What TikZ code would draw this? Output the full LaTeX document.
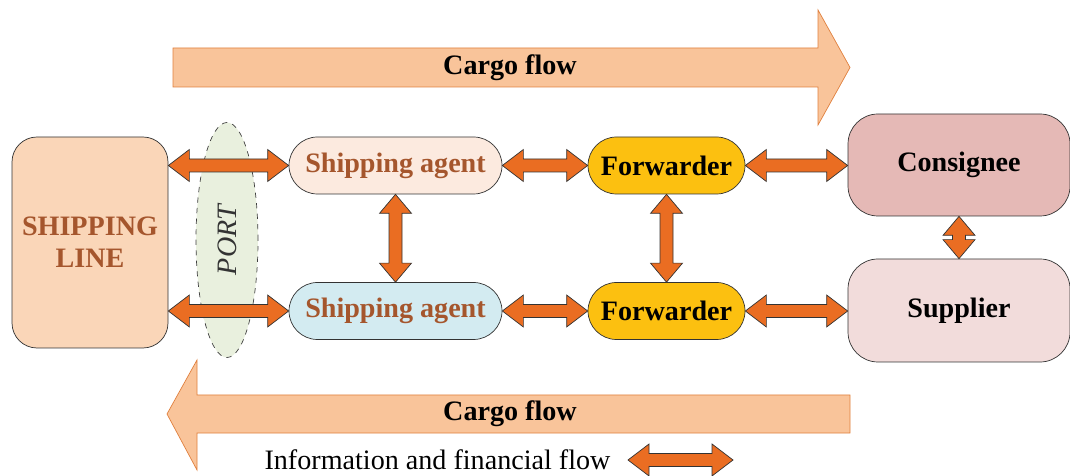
\documentclass[tikz,border=0pt]{standalone}
\usepackage{fontspec}
\setmainfont{Liberation Serif}
\usetikzlibrary{calc,shapes.geometric}
\definecolor{linebox}{HTML}{FAD6B8}
\definecolor{brownish}{HTML}{A5562D}
\definecolor{flowfill}{HTML}{F9C49A}
\definecolor{flowdraw}{HTML}{E0803E}
\definecolor{agenttop}{HTML}{FCEADF}
\definecolor{agentbot}{HTML}{D3EBF1}
\definecolor{fwd}{HTML}{FCC010}
\definecolor{cons}{HTML}{E5B9B6}
\definecolor{supp}{HTML}{F2DCDB}
\definecolor{portfill}{HTML}{E9F0DE}
\definecolor{darr}{HTML}{EA6D22}
\begin{document}
\begin{tikzpicture}
        [box/.style={draw=black!80, thin, font=\fontsize{16}{18}\selectfont\bfseries},
        pill/.style={box, minimum width=#1, minimum height=1.14cm, rounded corners=0.57cm},
        flow/.style={draw=flowdraw, fill=flowfill, thin},
        dbl/.style={draw=black!80, fill=darr, thin, to path={
            -- ($(\tikztostart)+(0.42,0.32)$) -- ($(\tikztostart)+(0.42,0.13)$)
            -- ($(\tikztotarget)+(-0.42,0.13)$) -- ($(\tikztotarget)+(-0.42,0.32)$)
            -- (\tikztotarget) -- ($(\tikztotarget)+(-0.42,-0.32)$)
            -- ($(\tikztotarget)+(-0.42,-0.13)$) -- ($(\tikztostart)+(0.42,-0.13)$)
            -- ($(\tikztostart)+(0.42,-0.32)$) -- cycle}},
        vdbl/.style={draw=black!80, fill=darr, thin, to path={
            -- ($(\tikztostart)+(0.32,-0.38)$) -- ($(\tikztostart)+(0.13,-0.38)$)
            -- ($(\tikztotarget)+(0.13,0.38)$) -- ($(\tikztotarget)+(0.32,0.38)$)
            -- (\tikztotarget) -- ($(\tikztotarget)+(-0.32,0.38)$)
            -- ($(\tikztotarget)+(-0.13,0.38)$) -- ($(\tikztostart)+(-0.13,-0.38)$)
            -- ($(\tikztostart)+(-0.32,-0.38)$) -- cycle}}]
        \useasboundingbox (0,0) rectangle (21.4,9.5);
        \draw[flow] (3.46,7.76) -- (16.36,7.76) -- (16.36,7.0) -- (17.0,8.15)
            -- (16.36,9.3) -- (16.36,8.54) -- (3.46,8.54) -- cycle;
        \node[font=\fontsize{16}{18}\selectfont\bfseries] (cargotop) at (10.2,8.15) {Cargo flow};
        \draw[flow] (17.0,0.84) -- (3.94,0.84) -- (3.94,0.1) -- (3.34,1.22)
            -- (3.94,2.3) -- (3.94,1.6) -- (17.0,1.6) -- cycle;
        \node[font=\fontsize{16}{18}\selectfont\bfseries] (cargobot) at (10.2,1.22) {Cargo flow};
        \node[box, fill=linebox, text=brownish, align=center, minimum width=3.12cm,
            minimum height=4.22cm, rounded corners=0.5cm] (sl) at (1.8,4.65) {SHIPPING\\LINE};
        \node[ellipse, draw=black!75, dashed, fill=portfill, minimum width=1.24cm,
            minimum height=4.7cm, inner sep=0pt] (port) at (4.54,4.7) {};
        \node[rotate=90, text=black!80, font=\fontsize{16}{18}\selectfont\itshape] at (port) {PORT};
        \node[pill=4.26cm, fill=agenttop, text=brownish] (sat) at (7.91,6.19) {Shipping agent};
        \node[pill=4.26cm, fill=agentbot, text=brownish] (sab) at (7.91,3.28) {Shipping agent};
        \node[pill=3.14cm, fill=fwd] (fwt) at (13.33,6.19) {Forwarder};
        \node[pill=3.14cm, fill=fwd] (fwb) at (13.33,3.28) {Forwarder};
        \node[box, fill=cons, minimum width=4.44cm, minimum height=2.04cm,
            rounded corners=0.6cm] (cons) at (19.18,6.2) {Consignee};
        \node[box, fill=supp, minimum width=4.44cm, minimum height=2.06cm,
            rounded corners=0.6cm] (supp) at (19.18,3.29) {Supplier};
        \draw[dbl] (sl.east |- sat.west) to (sat.west);
        \draw[dbl] (sl.east |- sab.west) to (sab.west);
        \draw[dbl] (sat.east) to (fwt.west);
        \draw[dbl] (sab.east) to (fwb.west);
        \draw[dbl] (fwt.east) to (cons.west |- fwt.east);
        \draw[dbl] (fwb.east) to (supp.west |- fwb.east);
        \draw[vdbl] (sat.south) to (sab.north);
        \draw[vdbl] (fwt.south) to (fwb.north);
        \draw[vdbl] (cons.south) to (supp.north);
        \node[font=\fontsize{16}{18}\selectfont] (legend) at (8.75,0.3) {Information and financial flow};
        \coordinate (la) at (12.56,0.3);
        \coordinate (lb) at (14.66,0.3);
        \draw[dbl] (la) to (lb);
    \end{tikzpicture}
\end{document}
